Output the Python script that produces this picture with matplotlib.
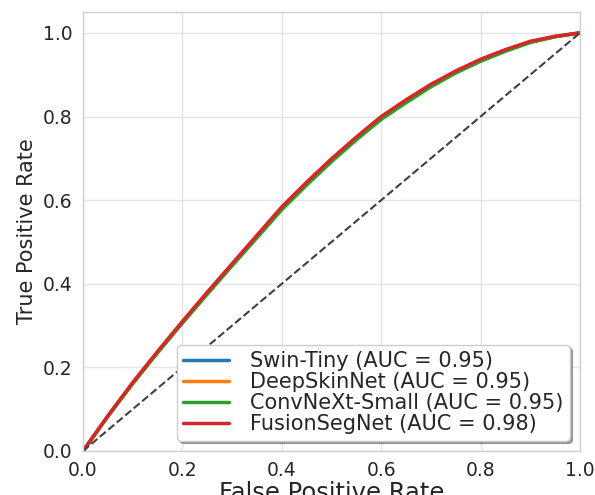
import matplotlib
matplotlib.use("Agg")
import matplotlib.pyplot as plt
import seaborn as sns

sns.set_style("whitegrid")
plt.rcParams["font.family"] = ["DejaVu Sans"]

# ROC points (false positive rate / true positive rate)
fpr = [0.0, 0.05, 0.10, 0.15, 0.20, 0.25, 0.30, 0.35, 0.40, 0.45, 0.50,
       0.55, 0.60, 0.65, 0.70, 0.75, 0.80, 0.85, 0.90, 0.95, 1.0]
tpr_swin = [0.0, 0.083, 0.162, 0.236, 0.307, 0.377, 0.445, 0.512, 0.580, 0.639, 0.695,
            0.747, 0.796, 0.836, 0.874, 0.906, 0.934, 0.958, 0.978, 0.991, 1.0]
tpr_deepskin = [0.0, 0.083, 0.162, 0.236, 0.307, 0.377, 0.445, 0.512, 0.580, 0.639, 0.695,
                0.747, 0.796, 0.836, 0.874, 0.906, 0.934, 0.958, 0.978, 0.991, 1.0]
tpr_convnext = [0.0, 0.083, 0.161, 0.235, 0.306, 0.375, 0.443, 0.510, 0.577, 0.636, 0.692,
                0.744, 0.793, 0.833, 0.871, 0.904, 0.932, 0.956, 0.977, 0.991, 1.0]
tpr_fusion = [0.0, 0.084, 0.164, 0.238, 0.310, 0.380, 0.448, 0.516, 0.584, 0.643, 0.699,
              0.751, 0.800, 0.840, 0.877, 0.909, 0.937, 0.960, 0.980, 0.992, 1.0]

models = ["Swin-Tiny", "DeepSkinNet", "ConvNeXt-Small", "FusionSegNet"]
aucs = [0.95, 0.95, 0.95, 0.98]
curves = [tpr_swin, tpr_deepskin, tpr_convnext, tpr_fusion]
colors = ["#1f77b4", "#ff7f0e", "#2ca02c", "#d62728"]

fig = plt.figure(figsize=(5.95, 4.95), dpi=100)
ax = fig.add_axes([83 / 595, 1 - 451 / 495, (580 - 83) / 595, (451 - 12) / 495])

for name, auc, tpr, c in zip(models, aucs, curves, colors):
    ax.plot(fpr, tpr, color=c, lw=2.5, label=f"{name} (AUC = {auc:.2f})")

ax.plot([0, 1], [0, 1], linestyle="--", color="#404040", lw=1.5)

ax.set_xlim(0.0, 1.0)
ax.set_ylim(0.0, 1.05)
ax.set_xticks([0.0, 0.2, 0.4, 0.6, 0.8, 1.0])
ax.set_yticks([0.0, 0.2, 0.4, 0.6, 0.8, 1.0])
ax.tick_params(labelsize=13.5, colors="#262626")
ax.tick_params(axis="x", pad=3.5)
ax.tick_params(axis="y", pad=4)
ax.set_xlabel("False Positive Rate", fontsize=17.5, color="#262626", labelpad=1)
ax.set_ylabel("True Positive Rate", fontsize=15, color="#262626")
ax.grid(True, color="#e4e4e4", lw=1.0)
for s in ax.spines.values():
    s.set_color("#d0d0d0")
    s.set_linewidth(1.0)

leg = ax.legend(loc="lower right", fontsize=15, frameon=True, fancybox=True,
                shadow=True, framealpha=1, labelspacing=0.05, borderpad=0.3,
                handlelength=2.2, handletextpad=1.0, borderaxespad=0.5)
leg.get_frame().set_edgecolor("#cccccc")

fig.savefig("out.png", dpi=100)
